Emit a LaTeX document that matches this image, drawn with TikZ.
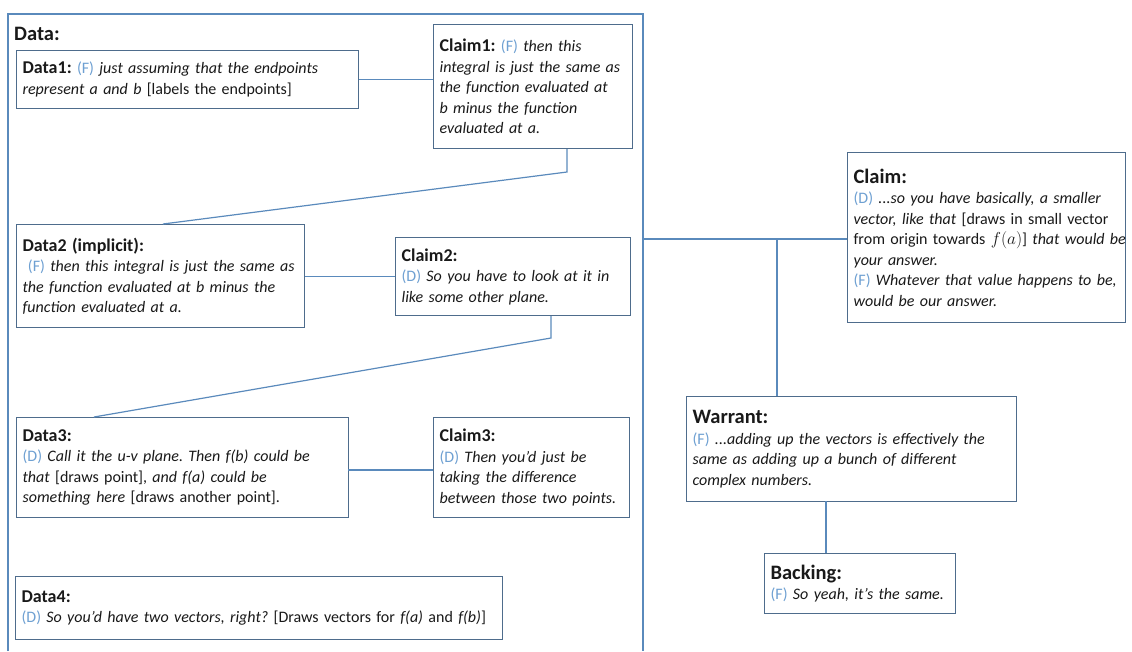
\documentclass[tikz,border=0pt]{standalone}
\usepackage{fontspec}
\setmainfont{Carlito}
\frenchspacing
\definecolor{lblue}{RGB}{110,160,210}
\definecolor{conn}{RGB}{90,138,188}
\definecolor{bord}{RGB}{78,108,140}
\definecolor{txt}{RGB}{25,25,25}
\newcommand\lbl[1]{\textcolor{lblue}{(#1)}}
\newcommand\bighead[1]{{\fontsize{20.5}{24}\selectfont\bfseries #1}}
\newcommand\smhead[1]{{\fontsize{18}{20}\selectfont\bfseries #1}}
\tikzset{
  box/.style={draw=bord, line width=1.2pt, fill=white, anchor=north west, align=left,
    inner xsep=6pt, inner ysep=4pt, font=\fontsize{16}{20.5}\selectfont, text=txt},
  link/.style={draw=conn, line width=1.2pt},
}
\begin{document}
\begin{tikzpicture}[x=1pt,y=-1pt]
\useasboundingbox (0,0) rectangle (1132,651);
% outer data frame
\draw[link] (8,651) -- (8,14) -- (643,14) -- (643,651);
\coordinate (frameR) at (643,239);
\node[anchor=base west, inner sep=0pt, text=txt] (title) at (14,40) {\bighead{Data:}};

\node[box, text width=330pt, minimum height=58pt] (d1) at (16,50)
 {\smhead{Data1:} \lbl{F} \textit{just assuming that the endpoints}\\
  \textit{represent a and b} [labels the endpoints]};
\node[box, text width=187pt, minimum height=124pt] (c1) at (433,24)
 {\smhead{Claim1:} \lbl{F} \textit{then this}\\
  \textit{integral is just the same as}\\
  \textit{the function evaluated at}\\
  \textit{b minus the function}\\
  \textit{evaluated at a.}};
\node[box, text width=276pt, minimum height=103pt] (d2) at (16,224)
 {\smhead{Data2 (implicit):}\\
  \mbox{\ \lbl{F} \textit{then this integral is just the same as}}\\
  \textit{the function evaluated at b minus the}\\
  \textit{function evaluated at a.}};
\node[box, text width=223pt, minimum height=78pt] (c2) at (395,237)
 {\smhead{Claim2:}\\
  \lbl{D} \textit{So you have to look at it in}\\
  \textit{like some other plane.}};
\node[box, text width=320pt, minimum height=100pt] (d3) at (16,417)
 {\smhead{Data3:}\\
  \lbl{D} \textit{Call it the u-v plane. Then f(b) could be}\\
  \textit{that} [draws point], \textit{and f(a) could be}\\
  \textit{something here} [draws another point].};
\node[box, text width=184pt, minimum height=100pt] (c3) at (433,417)
 {\smhead{Claim3:}\\
  \lbl{D} \textit{Then you'd just be}\\
  \textit{taking the difference}\\
  \mbox{\textit{between those two points.}}};
\node[box, text width=475pt, minimum height=63pt] (d4) at (15,576)
 {\smhead{Data4:}\\
  \mbox{\lbl{D} \textit{So you'd have two vectors, right?} [Draws vectors for \textit{f(a)} and \textit{f(b)}]}};

\node[box, text width=266pt, minimum height=170pt] (cl) at (847,152)
 {\bighead{Claim:}\\
  \lbl{D} \textit{...so you have basically, a smaller}\\
  \textit{vector, like that} [draws in small vector\\
  \mbox{from origin towards $f(a)$] \textit{that would be}}\\
  \textit{your answer.}\\
  \lbl{F} \textit{Whatever that value happens to be,}\\
  \textit{would be our answer.}};
\node[box, text width=318pt, minimum height=105pt] (w) at (686,396)
 {\bighead{Warrant:}\\
  \lbl{F} \textit{...adding up the vectors is effectively the}\\
  \textit{same as adding up a bunch of different}\\
  \textit{complex numbers.}};
\node[box, text width=179pt, minimum height=60pt] (b) at (764,553)
 {\bighead{Backing:}\\
  \lbl{F} \textit{So yeah, it's the same.}};

% connectors
\draw[link] (d1.east) -- (d1.east -| c1.west);
\coordinate (c1k) at (567,172);
\coordinate (d2t) at (163,224);
\draw[link] (c1.south -| c1k) -- (c1k) -- (d2t);
\draw[link] (d2.east) -- (d2.east -| c2.west);
\coordinate (c2k) at (551,338);
\coordinate (d3t) at (94,417);
\draw[link] (c2.south -| c2k) -- (c2k) -- (d3t);
\coordinate (d3r) at (348,470);
\draw[link] (d3r) -- (d3r -| c3.west);
\coordinate (wj) at (777,239);
\draw[link] (frameR) -- (frameR -| cl.west);
\draw[link] (wj) -- (wj |- w.north);
\coordinate (wb) at (826,501);
\draw[link] (wb) -- (wb |- b.north);
\end{tikzpicture}
\end{document}
